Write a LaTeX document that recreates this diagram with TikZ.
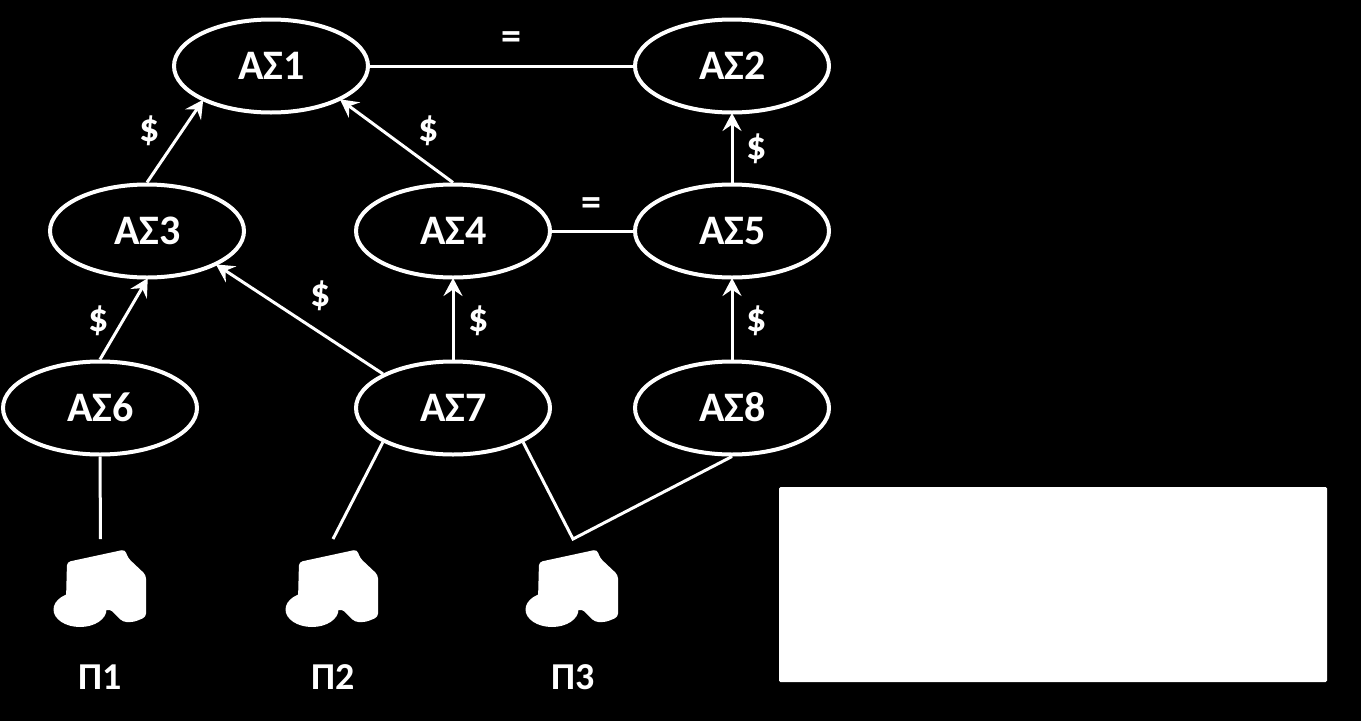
\documentclass[tikz,border=0pt]{standalone}
\usepackage{fontspec}
\setmainfont{Carlito}
\usetikzlibrary{arrows.meta,shapes.geometric}
\tikzset{
  px/.style={x=1pt,y=-1pt},
  as/.style={ellipse,draw=white,line width=4pt,fill=black,text=white,minimum width=194pt,minimum height=93pt,inner sep=0pt,text height=26pt,text depth=0pt,font=\fontsize{42}{42}\selectfont\bfseries},
  conn/.style={draw=white,line width=3pt},
  arr/.style={conn,-{Stealth[length=18pt,width=19pt,inset=6.5pt]},shorten >=-1.5pt},
  lab/.style={text=white,inner sep=0pt,font=\fontsize{40}{40}\selectfont\bfseries},
  eqlab/.style={text=white,inner sep=0pt,font=\fontsize{40}{40}\selectfont\bfseries},
  plab/.style={text=white,inner sep=0pt,font=\fontsize{38}{38}\selectfont\bfseries},
  house/.pic={
    \fill[white,rounded corners=3.5pt] (67,562) -- (125,549.5) -- (128,558) -- (146,575) -- (146,617) -- (134,622) -- (123,622) -- (110,609) -- (100,612) -- (70,612) -- (66,600) -- cycle;
    \fill[white] (80,609.5) ellipse [x radius=26.5, y radius=17.5];
  }
}
\begin{document}
\begin{tikzpicture}[px]
\useasboundingbox (0,0) rectangle (1361,721);
\fill[black] (0,0) rectangle (1361,721);
\node[as] (a1) at (271,66) {\hspace{1pt}ΑΣ1};
\node[as] (a2) at (732,66) {\hspace{1pt}ΑΣ2};
\node[as] (a3) at (147,231) {\hspace{1pt}ΑΣ3};
\node[as] (a4) at (453,231) {\hspace{1pt}ΑΣ4};
\node[as] (a5) at (732,231) {\hspace{1pt}ΑΣ5};
\node[as] (a6) at (100,408) {\hspace{1pt}ΑΣ6};
\node[as] (a7) at (453,408) {\hspace{1pt}ΑΣ7};
\node[as] (a8) at (732,408) {\hspace{1pt}ΑΣ8};
\coordinate (c1) at (100.5,539);
\coordinate (c2) at (333,539);
\coordinate (c3) at (573,539);
\draw[conn] (a1.east) -- (a2.west);
\draw[conn] (a4.east) -- (a5.west);
\draw[arr] (a3.north) -- (a1.207);
\draw[arr] (a4.north) -- (a1.334);
\draw[arr] (a5.north) -- (a2.south);
\draw[arr] (a6.north) -- (a3.south);
\draw[arr] (a7.154) -- (a3.334);
\draw[arr] (a7.north) -- (a4.south);
\draw[arr] (a8.north) -- (a5.south);
\draw[conn] (a6.south) -- (c1);
\draw[conn] (a7.206) -- (c2);
\draw[conn,line join=miter] (a7.334) -- (c3) -- (a8.south);
\pic at (0,0) {house};
\pic at (232,0) {house};
\pic at (472,0) {house};
\node[plab] (p1) at (100,677) {Π1};
\node[plab] (p2) at (333,677) {Π2};
\node[plab] (p3) at (573,677) {Π3};
\node[lab] (d1) at (150,131) {\$};
\node[lab] (d2) at (429,131) {\$};
\node[lab] (d3) at (757,149) {\$};
\node[lab] (d4) at (99,321) {\$};
\node[lab] (d5) at (321,296) {\$};
\node[lab] (d6) at (479,321) {\$};
\node[lab] (d7) at (757,321) {\$};
\node[eqlab] (e1) at (511,41) {=};
\node[eqlab] (e2) at (591,207) {=};
\fill[white,rounded corners=1.5pt] (779,487) rectangle (1327,682);
\end{tikzpicture}
\end{document}
